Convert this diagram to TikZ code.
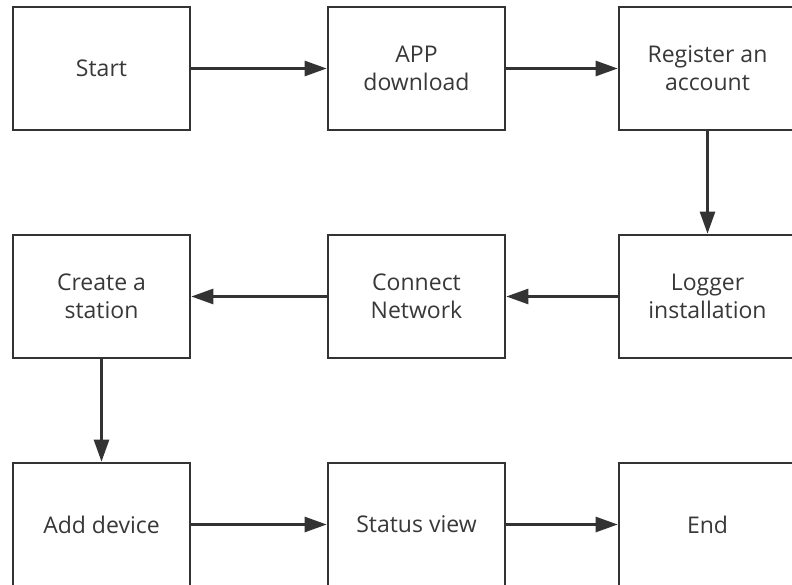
\documentclass[tikz,border=0pt]{standalone}
\usepackage{fontspec}
\setmainfont{Open Sans}
\usepackage{tikz}
\usetikzlibrary{arrows.meta}
\definecolor{ink}{HTML}{333333}
\definecolor{txt}{HTML}{383838}
\tikzstyle{step box}=[draw=ink, line width=2.6pt, fill=white, minimum width=177pt, minimum height=123pt, inner sep=0pt, align=center, text=txt, font=\fontsize{23}{28}\selectfont]
\tikzstyle{edge}=[draw=ink, line width=2.6pt, -{Triangle[length=22pt,width=15pt]}]

\begin{document}
\begin{tikzpicture}[x=1pt,y=-1pt]
\useasboundingbox (0,0) rectangle (792,585);
\clip (0,0) rectangle (792,585);
\node[step box] (start) at ( 101.5 , 68.5 ){Start};
\node[step box] (app) at ( 416.5 , 68.5 ){APP\\download};
\node[step box] (register) at ( 707.5 , 68.5 ){Register an\\account};
\node[step box] (logger) at ( 707.5 , 296.5 ){Logger\\installation};
\node[step box] (network) at ( 416.5 , 296.5 ){Connect\\Network};
\node[step box] (station) at ( 101.5 , 296.5 ){Create a\\station};
\node[step box] (device) at ( 101.5 , 524.5 ){Add device};
\node[step box] (status) at ( 416.5 , 524.5 ){Status view};
\node[step box] (end) at ( 707.5 , 524.5 ){End};
\draw[edge] (start) -- (app);
\draw[edge] (app) -- (register);
\draw[edge] (register) -- (logger);
\draw[edge] (logger) -- (network);
\draw[edge] (network) -- (station);
\draw[edge] (station) -- (device);
\draw[edge] (device) -- (status);
\draw[edge] (status) -- (end);
\end{tikzpicture}
\end{document}
